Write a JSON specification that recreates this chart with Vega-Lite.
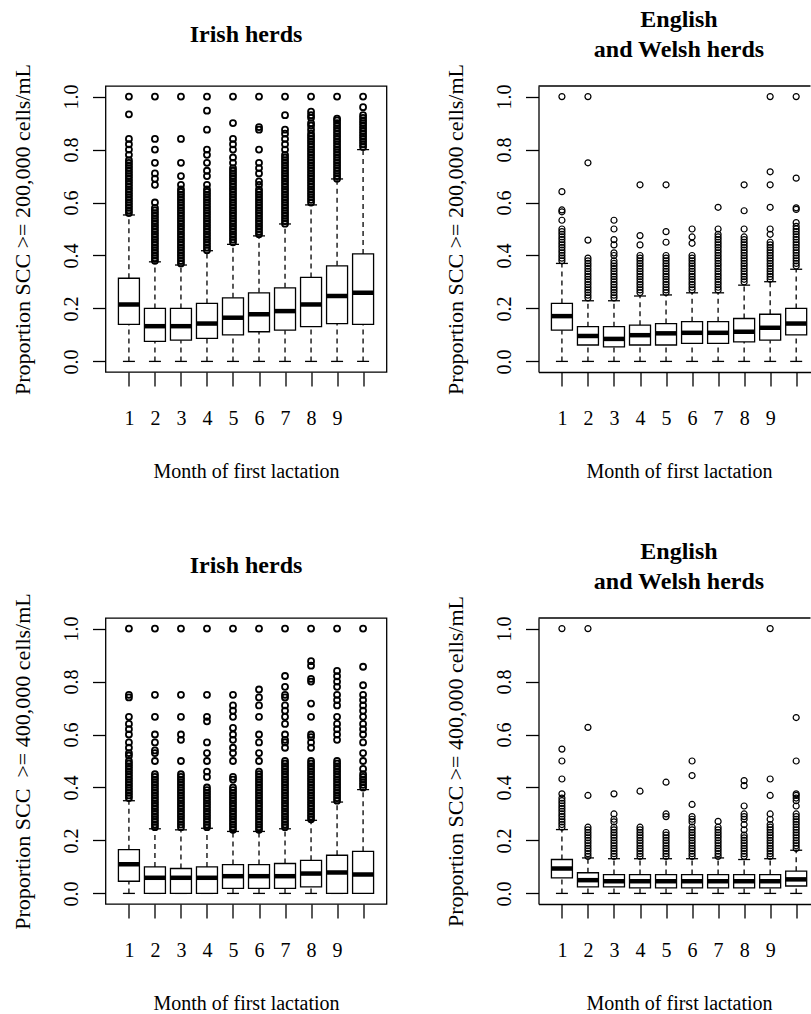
{
"$schema": "https://vega.github.io/schema/vega-lite/v6.json",
"padding": {"left": 10.5, "top": 7, "right": 0, "bottom": 0},
"background": "white",
"datasets": {
"boxes": [
{"p":1,"m":1,"lo":0,"q1":0.14,"md":0.215,"q3":0.314,"hi":0.553},
{"p":1,"m":2,"lo":0,"q1":0.076,"md":0.133,"q3":0.2,"hi":0.376},
{"p":1,"m":3,"lo":0,"q1":0.08,"md":0.133,"q3":0.2,"hi":0.364},
{"p":1,"m":4,"lo":0,"q1":0.087,"md":0.143,"q3":0.219,"hi":0.418},
{"p":1,"m":5,"lo":0,"q1":0.1,"md":0.165,"q3":0.24,"hi":0.442},
{"p":1,"m":6,"lo":0,"q1":0.112,"md":0.178,"q3":0.259,"hi":0.474},
{"p":1,"m":7,"lo":0,"q1":0.118,"md":0.19,"q3":0.278,"hi":0.519},
{"p":1,"m":8,"lo":0,"q1":0.131,"md":0.215,"q3":0.317,"hi":0.591},
{"p":1,"m":9,"lo":0,"q1":0.143,"md":0.247,"q3":0.361,"hi":0.689},
{"p":1,"m":10,"lo":0,"q1":0.14,"md":0.259,"q3":0.406,"hi":0.8},
{"p":2,"m":1,"lo":0,"q1":0.118,"md":0.171,"q3":0.219,"hi":0.37},
{"p":2,"m":2,"lo":0,"q1":0.062,"md":0.096,"q3":0.131,"hi":0.229},
{"p":2,"m":3,"lo":0,"q1":0.055,"md":0.085,"q3":0.131,"hi":0.229},
{"p":2,"m":4,"lo":0,"q1":0.062,"md":0.099,"q3":0.137,"hi":0.247},
{"p":2,"m":5,"lo":0,"q1":0.062,"md":0.106,"q3":0.143,"hi":0.251},
{"p":2,"m":6,"lo":0,"q1":0.068,"md":0.108,"q3":0.15,"hi":0.259},
{"p":2,"m":7,"lo":0,"q1":0.068,"md":0.108,"q3":0.15,"hi":0.259},
{"p":2,"m":8,"lo":0,"q1":0.074,"md":0.112,"q3":0.162,"hi":0.288},
{"p":2,"m":9,"lo":0,"q1":0.08,"md":0.127,"q3":0.178,"hi":0.301},
{"p":2,"m":10,"lo":0,"q1":0.1,"md":0.143,"q3":0.2,"hi":0.348},
{"p":3,"m":1,"lo":0,"q1":0.046,"md":0.11,"q3":0.165,"hi":0.35},
{"p":3,"m":2,"lo":0,"q1":0,"md":0.059,"q3":0.1,"hi":0.244},
{"p":3,"m":3,"lo":0,"q1":0,"md":0.059,"q3":0.094,"hi":0.24},
{"p":3,"m":4,"lo":0,"q1":0,"md":0.059,"q3":0.1,"hi":0.246},
{"p":3,"m":5,"lo":0,"q1":0.019,"md":0.065,"q3":0.109,"hi":0.234},
{"p":3,"m":6,"lo":0,"q1":0.019,"md":0.065,"q3":0.109,"hi":0.234},
{"p":3,"m":7,"lo":0,"q1":0.019,"md":0.065,"q3":0.113,"hi":0.244},
{"p":3,"m":8,"lo":0,"q1":0.025,"md":0.075,"q3":0.125,"hi":0.276},
{"p":3,"m":9,"lo":0,"q1":0,"md":0.079,"q3":0.144,"hi":0.345},
{"p":3,"m":10,"lo":0,"q1":0,"md":0.071,"q3":0.159,"hi":0.392},
{"p":4,"m":1,"lo":0,"q1":0.059,"md":0.094,"q3":0.128,"hi":0.241},
{"p":4,"m":2,"lo":0,"q1":0.025,"md":0.05,"q3":0.078,"hi":0.134},
{"p":4,"m":3,"lo":0,"q1":0.025,"md":0.046,"q3":0.071,"hi":0.131},
{"p":4,"m":4,"lo":0,"q1":0.021,"md":0.046,"q3":0.071,"hi":0.131},
{"p":4,"m":5,"lo":0,"q1":0.021,"md":0.046,"q3":0.071,"hi":0.131},
{"p":4,"m":6,"lo":0,"q1":0.021,"md":0.046,"q3":0.071,"hi":0.131},
{"p":4,"m":7,"lo":0,"q1":0.021,"md":0.046,"q3":0.071,"hi":0.134},
{"p":4,"m":8,"lo":0,"q1":0.021,"md":0.046,"q3":0.071,"hi":0.128},
{"p":4,"m":9,"lo":0,"q1":0.021,"md":0.046,"q3":0.071,"hi":0.131},
{"p":4,"m":10,"lo":0,"q1":0.028,"md":0.053,"q3":0.084,"hi":0.163}
],
"out": [
{"p":1,"m":1,"v":0.56},{"p":1,"m":1,"v":0.57},{"p":1,"m":1,"v":0.58},{"p":1,"m":1,"v":0.59},{"p":1,"m":1,"v":0.6},{"p":1,"m":1,"v":0.61},{"p":1,"m":1,"v":0.62},{"p":1,"m":1,"v":0.63},{"p":1,"m":1,"v":0.64},{"p":1,"m":1,"v":0.65},{"p":1,"m":1,"v":0.66},{"p":1,"m":1,"v":0.67},{"p":1,"m":1,"v":0.68},{"p":1,"m":1,"v":0.69},{"p":1,"m":1,"v":0.7},{"p":1,"m":1,"v":0.71},{"p":1,"m":1,"v":0.72},{"p":1,"m":1,"v":0.73},{"p":1,"m":1,"v":0.74},{"p":1,"m":1,"v":0.75},{"p":1,"m":1,"v":0.76},{"p":1,"m":1,"v":0.78},{"p":1,"m":1,"v":0.8},{"p":1,"m":1,"v":0.82},{"p":1,"m":1,"v":0.84},{"p":1,"m":1,"v":0.933},{"p":1,"m":1,"v":1},
{"p":1,"m":2,"v":0.38},{"p":1,"m":2,"v":0.39},{"p":1,"m":2,"v":0.4},{"p":1,"m":2,"v":0.41},{"p":1,"m":2,"v":0.42},{"p":1,"m":2,"v":0.43},{"p":1,"m":2,"v":0.44},{"p":1,"m":2,"v":0.45},{"p":1,"m":2,"v":0.46},{"p":1,"m":2,"v":0.47},{"p":1,"m":2,"v":0.48},{"p":1,"m":2,"v":0.49},{"p":1,"m":2,"v":0.5},{"p":1,"m":2,"v":0.51},{"p":1,"m":2,"v":0.52},{"p":1,"m":2,"v":0.53},{"p":1,"m":2,"v":0.54},{"p":1,"m":2,"v":0.55},{"p":1,"m":2,"v":0.56},{"p":1,"m":2,"v":0.57},{"p":1,"m":2,"v":0.58},{"p":1,"m":2,"v":0.6},{"p":1,"m":2,"v":0.667},{"p":1,"m":2,"v":0.69},{"p":1,"m":2,"v":0.71},{"p":1,"m":2,"v":0.75},{"p":1,"m":2,"v":0.8},{"p":1,"m":2,"v":0.84},{"p":1,"m":2,"v":1},
{"p":1,"m":3,"v":0.37},{"p":1,"m":3,"v":0.38},{"p":1,"m":3,"v":0.39},{"p":1,"m":3,"v":0.4},{"p":1,"m":3,"v":0.41},{"p":1,"m":3,"v":0.42},{"p":1,"m":3,"v":0.43},{"p":1,"m":3,"v":0.44},{"p":1,"m":3,"v":0.45},{"p":1,"m":3,"v":0.46},{"p":1,"m":3,"v":0.47},{"p":1,"m":3,"v":0.48},{"p":1,"m":3,"v":0.49},{"p":1,"m":3,"v":0.5},{"p":1,"m":3,"v":0.51},{"p":1,"m":3,"v":0.52},{"p":1,"m":3,"v":0.53},{"p":1,"m":3,"v":0.54},{"p":1,"m":3,"v":0.55},{"p":1,"m":3,"v":0.56},{"p":1,"m":3,"v":0.57},{"p":1,"m":3,"v":0.58},{"p":1,"m":3,"v":0.59},{"p":1,"m":3,"v":0.6},{"p":1,"m":3,"v":0.61},{"p":1,"m":3,"v":0.62},{"p":1,"m":3,"v":0.63},{"p":1,"m":3,"v":0.64},{"p":1,"m":3,"v":0.65},{"p":1,"m":3,"v":0.667},{"p":1,"m":3,"v":0.7},{"p":1,"m":3,"v":0.75},{"p":1,"m":3,"v":0.84},{"p":1,"m":3,"v":1},
{"p":1,"m":4,"v":0.42},{"p":1,"m":4,"v":0.43},{"p":1,"m":4,"v":0.44},{"p":1,"m":4,"v":0.45},{"p":1,"m":4,"v":0.46},{"p":1,"m":4,"v":0.47},{"p":1,"m":4,"v":0.48},{"p":1,"m":4,"v":0.49},{"p":1,"m":4,"v":0.5},{"p":1,"m":4,"v":0.51},{"p":1,"m":4,"v":0.52},{"p":1,"m":4,"v":0.53},{"p":1,"m":4,"v":0.54},{"p":1,"m":4,"v":0.55},{"p":1,"m":4,"v":0.56},{"p":1,"m":4,"v":0.57},{"p":1,"m":4,"v":0.58},{"p":1,"m":4,"v":0.59},{"p":1,"m":4,"v":0.6},{"p":1,"m":4,"v":0.61},{"p":1,"m":4,"v":0.62},{"p":1,"m":4,"v":0.63},{"p":1,"m":4,"v":0.64},{"p":1,"m":4,"v":0.65},{"p":1,"m":4,"v":0.667},{"p":1,"m":4,"v":0.7},{"p":1,"m":4,"v":0.72},{"p":1,"m":4,"v":0.75},{"p":1,"m":4,"v":0.78},{"p":1,"m":4,"v":0.8},{"p":1,"m":4,"v":0.875},{"p":1,"m":4,"v":0.947},{"p":1,"m":4,"v":1},
{"p":1,"m":5,"v":0.45},{"p":1,"m":5,"v":0.46},{"p":1,"m":5,"v":0.47},{"p":1,"m":5,"v":0.48},{"p":1,"m":5,"v":0.49},{"p":1,"m":5,"v":0.5},{"p":1,"m":5,"v":0.51},{"p":1,"m":5,"v":0.52},{"p":1,"m":5,"v":0.53},{"p":1,"m":5,"v":0.54},{"p":1,"m":5,"v":0.55},{"p":1,"m":5,"v":0.56},{"p":1,"m":5,"v":0.57},{"p":1,"m":5,"v":0.58},{"p":1,"m":5,"v":0.59},{"p":1,"m":5,"v":0.6},{"p":1,"m":5,"v":0.61},{"p":1,"m":5,"v":0.62},{"p":1,"m":5,"v":0.63},{"p":1,"m":5,"v":0.64},{"p":1,"m":5,"v":0.65},{"p":1,"m":5,"v":0.66},{"p":1,"m":5,"v":0.67},{"p":1,"m":5,"v":0.68},{"p":1,"m":5,"v":0.69},{"p":1,"m":5,"v":0.7},{"p":1,"m":5,"v":0.71},{"p":1,"m":5,"v":0.72},{"p":1,"m":5,"v":0.73},{"p":1,"m":5,"v":0.75},{"p":1,"m":5,"v":0.77},{"p":1,"m":5,"v":0.8},{"p":1,"m":5,"v":0.82},{"p":1,"m":5,"v":0.84},{"p":1,"m":5,"v":0.9},{"p":1,"m":5,"v":1},
{"p":1,"m":6,"v":0.48},{"p":1,"m":6,"v":0.49},{"p":1,"m":6,"v":0.5},{"p":1,"m":6,"v":0.51},{"p":1,"m":6,"v":0.52},{"p":1,"m":6,"v":0.53},{"p":1,"m":6,"v":0.54},{"p":1,"m":6,"v":0.55},{"p":1,"m":6,"v":0.56},{"p":1,"m":6,"v":0.57},{"p":1,"m":6,"v":0.58},{"p":1,"m":6,"v":0.59},{"p":1,"m":6,"v":0.6},{"p":1,"m":6,"v":0.61},{"p":1,"m":6,"v":0.62},{"p":1,"m":6,"v":0.63},{"p":1,"m":6,"v":0.64},{"p":1,"m":6,"v":0.65},{"p":1,"m":6,"v":0.667},{"p":1,"m":6,"v":0.68},{"p":1,"m":6,"v":0.71},{"p":1,"m":6,"v":0.73},{"p":1,"m":6,"v":0.75},{"p":1,"m":6,"v":0.8},{"p":1,"m":6,"v":0.875},{"p":1,"m":6,"v":0.885},{"p":1,"m":6,"v":1},
{"p":1,"m":7,"v":0.52},{"p":1,"m":7,"v":0.53},{"p":1,"m":7,"v":0.54},{"p":1,"m":7,"v":0.55},{"p":1,"m":7,"v":0.56},{"p":1,"m":7,"v":0.57},{"p":1,"m":7,"v":0.58},{"p":1,"m":7,"v":0.59},{"p":1,"m":7,"v":0.6},{"p":1,"m":7,"v":0.61},{"p":1,"m":7,"v":0.62},{"p":1,"m":7,"v":0.63},{"p":1,"m":7,"v":0.64},{"p":1,"m":7,"v":0.65},{"p":1,"m":7,"v":0.66},{"p":1,"m":7,"v":0.67},{"p":1,"m":7,"v":0.68},{"p":1,"m":7,"v":0.69},{"p":1,"m":7,"v":0.7},{"p":1,"m":7,"v":0.71},{"p":1,"m":7,"v":0.72},{"p":1,"m":7,"v":0.73},{"p":1,"m":7,"v":0.74},{"p":1,"m":7,"v":0.75},{"p":1,"m":7,"v":0.76},{"p":1,"m":7,"v":0.77},{"p":1,"m":7,"v":0.78},{"p":1,"m":7,"v":0.8},{"p":1,"m":7,"v":0.82},{"p":1,"m":7,"v":0.84},{"p":1,"m":7,"v":0.86},{"p":1,"m":7,"v":0.875},{"p":1,"m":7,"v":0.93},{"p":1,"m":7,"v":1},
{"p":1,"m":8,"v":0.6},{"p":1,"m":8,"v":0.61},{"p":1,"m":8,"v":0.62},{"p":1,"m":8,"v":0.63},{"p":1,"m":8,"v":0.64},{"p":1,"m":8,"v":0.65},{"p":1,"m":8,"v":0.66},{"p":1,"m":8,"v":0.67},{"p":1,"m":8,"v":0.68},{"p":1,"m":8,"v":0.69},{"p":1,"m":8,"v":0.7},{"p":1,"m":8,"v":0.71},{"p":1,"m":8,"v":0.72},{"p":1,"m":8,"v":0.73},{"p":1,"m":8,"v":0.74},{"p":1,"m":8,"v":0.75},{"p":1,"m":8,"v":0.76},{"p":1,"m":8,"v":0.77},{"p":1,"m":8,"v":0.78},{"p":1,"m":8,"v":0.79},{"p":1,"m":8,"v":0.8},{"p":1,"m":8,"v":0.81},{"p":1,"m":8,"v":0.82},{"p":1,"m":8,"v":0.83},{"p":1,"m":8,"v":0.84},{"p":1,"m":8,"v":0.85},{"p":1,"m":8,"v":0.86},{"p":1,"m":8,"v":0.875},{"p":1,"m":8,"v":0.89},{"p":1,"m":8,"v":0.9},{"p":1,"m":8,"v":0.92},{"p":1,"m":8,"v":0.93},{"p":1,"m":8,"v":0.943},{"p":1,"m":8,"v":1},
{"p":1,"m":9,"v":0.69},{"p":1,"m":9,"v":0.7},{"p":1,"m":9,"v":0.71},{"p":1,"m":9,"v":0.72},{"p":1,"m":9,"v":0.73},{"p":1,"m":9,"v":0.74},{"p":1,"m":9,"v":0.75},{"p":1,"m":9,"v":0.76},{"p":1,"m":9,"v":0.77},{"p":1,"m":9,"v":0.78},{"p":1,"m":9,"v":0.79},{"p":1,"m":9,"v":0.8},{"p":1,"m":9,"v":0.81},{"p":1,"m":9,"v":0.82},{"p":1,"m":9,"v":0.83},{"p":1,"m":9,"v":0.84},{"p":1,"m":9,"v":0.85},{"p":1,"m":9,"v":0.86},{"p":1,"m":9,"v":0.87},{"p":1,"m":9,"v":0.88},{"p":1,"m":9,"v":0.89},{"p":1,"m":9,"v":0.9},{"p":1,"m":9,"v":0.91},{"p":1,"m":9,"v":0.917},{"p":1,"m":9,"v":1},
{"p":1,"m":10,"v":0.81},{"p":1,"m":10,"v":0.82},{"p":1,"m":10,"v":0.83},{"p":1,"m":10,"v":0.84},{"p":1,"m":10,"v":0.85},{"p":1,"m":10,"v":0.86},{"p":1,"m":10,"v":0.87},{"p":1,"m":10,"v":0.88},{"p":1,"m":10,"v":0.89},{"p":1,"m":10,"v":0.9},{"p":1,"m":10,"v":0.91},{"p":1,"m":10,"v":0.92},{"p":1,"m":10,"v":0.93},{"p":1,"m":10,"v":0.96},{"p":1,"m":10,"v":1},

{"p":2,"m":1,"v":0.38},{"p":2,"m":1,"v":0.39},{"p":2,"m":1,"v":0.4},{"p":2,"m":1,"v":0.41},{"p":2,"m":1,"v":0.42},{"p":2,"m":1,"v":0.43},{"p":2,"m":1,"v":0.44},{"p":2,"m":1,"v":0.45},{"p":2,"m":1,"v":0.46},{"p":2,"m":1,"v":0.47},{"p":2,"m":1,"v":0.48},{"p":2,"m":1,"v":0.49},{"p":2,"m":1,"v":0.5},{"p":2,"m":1,"v":0.533},{"p":2,"m":1,"v":0.565},{"p":2,"m":1,"v":0.572},{"p":2,"m":1,"v":0.641},{"p":2,"m":1,"v":1},
{"p":2,"m":2,"v":0.24},{"p":2,"m":2,"v":0.25},{"p":2,"m":2,"v":0.26},{"p":2,"m":2,"v":0.27},{"p":2,"m":2,"v":0.28},{"p":2,"m":2,"v":0.29},{"p":2,"m":2,"v":0.3},{"p":2,"m":2,"v":0.31},{"p":2,"m":2,"v":0.32},{"p":2,"m":2,"v":0.33},{"p":2,"m":2,"v":0.34},{"p":2,"m":2,"v":0.35},{"p":2,"m":2,"v":0.36},{"p":2,"m":2,"v":0.37},{"p":2,"m":2,"v":0.38},{"p":2,"m":2,"v":0.39},{"p":2,"m":2,"v":0.458},{"p":2,"m":2,"v":0.75},{"p":2,"m":2,"v":1},
{"p":2,"m":3,"v":0.24},{"p":2,"m":3,"v":0.25},{"p":2,"m":3,"v":0.26},{"p":2,"m":3,"v":0.27},{"p":2,"m":3,"v":0.28},{"p":2,"m":3,"v":0.29},{"p":2,"m":3,"v":0.3},{"p":2,"m":3,"v":0.31},{"p":2,"m":3,"v":0.32},{"p":2,"m":3,"v":0.33},{"p":2,"m":3,"v":0.34},{"p":2,"m":3,"v":0.35},{"p":2,"m":3,"v":0.36},{"p":2,"m":3,"v":0.37},{"p":2,"m":3,"v":0.38},{"p":2,"m":3,"v":0.4},{"p":2,"m":3,"v":0.41},{"p":2,"m":3,"v":0.44},{"p":2,"m":3,"v":0.46},{"p":2,"m":3,"v":0.5},{"p":2,"m":3,"v":0.533},
{"p":2,"m":4,"v":0.26},{"p":2,"m":4,"v":0.27},{"p":2,"m":4,"v":0.28},{"p":2,"m":4,"v":0.29},{"p":2,"m":4,"v":0.3},{"p":2,"m":4,"v":0.31},{"p":2,"m":4,"v":0.32},{"p":2,"m":4,"v":0.33},{"p":2,"m":4,"v":0.34},{"p":2,"m":4,"v":0.35},{"p":2,"m":4,"v":0.36},{"p":2,"m":4,"v":0.37},{"p":2,"m":4,"v":0.38},{"p":2,"m":4,"v":0.39},{"p":2,"m":4,"v":0.4},{"p":2,"m":4,"v":0.44},{"p":2,"m":4,"v":0.475},{"p":2,"m":4,"v":0.667},
{"p":2,"m":5,"v":0.26},{"p":2,"m":5,"v":0.27},{"p":2,"m":5,"v":0.28},{"p":2,"m":5,"v":0.29},{"p":2,"m":5,"v":0.3},{"p":2,"m":5,"v":0.31},{"p":2,"m":5,"v":0.32},{"p":2,"m":5,"v":0.33},{"p":2,"m":5,"v":0.34},{"p":2,"m":5,"v":0.35},{"p":2,"m":5,"v":0.36},{"p":2,"m":5,"v":0.37},{"p":2,"m":5,"v":0.38},{"p":2,"m":5,"v":0.39},{"p":2,"m":5,"v":0.4},{"p":2,"m":5,"v":0.45},{"p":2,"m":5,"v":0.49},{"p":2,"m":5,"v":0.667},
{"p":2,"m":6,"v":0.27},{"p":2,"m":6,"v":0.28},{"p":2,"m":6,"v":0.29},{"p":2,"m":6,"v":0.3},{"p":2,"m":6,"v":0.31},{"p":2,"m":6,"v":0.32},{"p":2,"m":6,"v":0.33},{"p":2,"m":6,"v":0.34},{"p":2,"m":6,"v":0.35},{"p":2,"m":6,"v":0.36},{"p":2,"m":6,"v":0.37},{"p":2,"m":6,"v":0.38},{"p":2,"m":6,"v":0.39},{"p":2,"m":6,"v":0.4},{"p":2,"m":6,"v":0.446},{"p":2,"m":6,"v":0.47},{"p":2,"m":6,"v":0.5},
{"p":2,"m":7,"v":0.27},{"p":2,"m":7,"v":0.28},{"p":2,"m":7,"v":0.29},{"p":2,"m":7,"v":0.3},{"p":2,"m":7,"v":0.31},{"p":2,"m":7,"v":0.32},{"p":2,"m":7,"v":0.33},{"p":2,"m":7,"v":0.34},{"p":2,"m":7,"v":0.35},{"p":2,"m":7,"v":0.36},{"p":2,"m":7,"v":0.37},{"p":2,"m":7,"v":0.38},{"p":2,"m":7,"v":0.39},{"p":2,"m":7,"v":0.4},{"p":2,"m":7,"v":0.41},{"p":2,"m":7,"v":0.42},{"p":2,"m":7,"v":0.43},{"p":2,"m":7,"v":0.44},{"p":2,"m":7,"v":0.45},{"p":2,"m":7,"v":0.46},{"p":2,"m":7,"v":0.47},{"p":2,"m":7,"v":0.48},{"p":2,"m":7,"v":0.5},{"p":2,"m":7,"v":0.582},
{"p":2,"m":8,"v":0.3},{"p":2,"m":8,"v":0.31},{"p":2,"m":8,"v":0.32},{"p":2,"m":8,"v":0.33},{"p":2,"m":8,"v":0.34},{"p":2,"m":8,"v":0.35},{"p":2,"m":8,"v":0.36},{"p":2,"m":8,"v":0.37},{"p":2,"m":8,"v":0.38},{"p":2,"m":8,"v":0.39},{"p":2,"m":8,"v":0.4},{"p":2,"m":8,"v":0.41},{"p":2,"m":8,"v":0.42},{"p":2,"m":8,"v":0.43},{"p":2,"m":8,"v":0.44},{"p":2,"m":8,"v":0.45},{"p":2,"m":8,"v":0.46},{"p":2,"m":8,"v":0.47},{"p":2,"m":8,"v":0.5},{"p":2,"m":8,"v":0.569},{"p":2,"m":8,"v":0.667},
{"p":2,"m":9,"v":0.31},{"p":2,"m":9,"v":0.32},{"p":2,"m":9,"v":0.33},{"p":2,"m":9,"v":0.34},{"p":2,"m":9,"v":0.35},{"p":2,"m":9,"v":0.36},{"p":2,"m":9,"v":0.37},{"p":2,"m":9,"v":0.38},{"p":2,"m":9,"v":0.39},{"p":2,"m":9,"v":0.4},{"p":2,"m":9,"v":0.41},{"p":2,"m":9,"v":0.42},{"p":2,"m":9,"v":0.43},{"p":2,"m":9,"v":0.44},{"p":2,"m":9,"v":0.45},{"p":2,"m":9,"v":0.48},{"p":2,"m":9,"v":0.5},{"p":2,"m":9,"v":0.582},{"p":2,"m":9,"v":0.667},{"p":2,"m":9,"v":0.716},{"p":2,"m":9,"v":1},
{"p":2,"m":10,"v":0.36},{"p":2,"m":10,"v":0.37},{"p":2,"m":10,"v":0.38},{"p":2,"m":10,"v":0.39},{"p":2,"m":10,"v":0.4},{"p":2,"m":10,"v":0.41},{"p":2,"m":10,"v":0.42},{"p":2,"m":10,"v":0.43},{"p":2,"m":10,"v":0.44},{"p":2,"m":10,"v":0.45},{"p":2,"m":10,"v":0.46},{"p":2,"m":10,"v":0.47},{"p":2,"m":10,"v":0.48},{"p":2,"m":10,"v":0.49},{"p":2,"m":10,"v":0.5},{"p":2,"m":10,"v":0.51},{"p":2,"m":10,"v":0.524},{"p":2,"m":10,"v":0.574},{"p":2,"m":10,"v":0.58},{"p":2,"m":10,"v":0.692},{"p":2,"m":10,"v":1},

{"p":3,"m":1,"v":0.36},{"p":3,"m":1,"v":0.37},{"p":3,"m":1,"v":0.38},{"p":3,"m":1,"v":0.39},{"p":3,"m":1,"v":0.4},{"p":3,"m":1,"v":0.41},{"p":3,"m":1,"v":0.42},{"p":3,"m":1,"v":0.43},{"p":3,"m":1,"v":0.44},{"p":3,"m":1,"v":0.45},{"p":3,"m":1,"v":0.46},{"p":3,"m":1,"v":0.47},{"p":3,"m":1,"v":0.48},{"p":3,"m":1,"v":0.49},{"p":3,"m":1,"v":0.5},{"p":3,"m":1,"v":0.52},{"p":3,"m":1,"v":0.53},{"p":3,"m":1,"v":0.55},{"p":3,"m":1,"v":0.57},{"p":3,"m":1,"v":0.6},{"p":3,"m":1,"v":0.62},{"p":3,"m":1,"v":0.64},{"p":3,"m":1,"v":0.667},{"p":3,"m":1,"v":0.74},{"p":3,"m":1,"v":0.75},{"p":3,"m":1,"v":1},
{"p":3,"m":2,"v":0.25},{"p":3,"m":2,"v":0.26},{"p":3,"m":2,"v":0.27},{"p":3,"m":2,"v":0.28},{"p":3,"m":2,"v":0.29},{"p":3,"m":2,"v":0.3},{"p":3,"m":2,"v":0.31},{"p":3,"m":2,"v":0.32},{"p":3,"m":2,"v":0.33},{"p":3,"m":2,"v":0.34},{"p":3,"m":2,"v":0.35},{"p":3,"m":2,"v":0.36},{"p":3,"m":2,"v":0.37},{"p":3,"m":2,"v":0.38},{"p":3,"m":2,"v":0.39},{"p":3,"m":2,"v":0.4},{"p":3,"m":2,"v":0.41},{"p":3,"m":2,"v":0.42},{"p":3,"m":2,"v":0.43},{"p":3,"m":2,"v":0.44},{"p":3,"m":2,"v":0.45},{"p":3,"m":2,"v":0.5},{"p":3,"m":2,"v":0.53},{"p":3,"m":2,"v":0.54},{"p":3,"m":2,"v":0.57},{"p":3,"m":2,"v":0.6},{"p":3,"m":2,"v":0.667},{"p":3,"m":2,"v":0.75},{"p":3,"m":2,"v":1},
{"p":3,"m":3,"v":0.25},{"p":3,"m":3,"v":0.26},{"p":3,"m":3,"v":0.27},{"p":3,"m":3,"v":0.28},{"p":3,"m":3,"v":0.29},{"p":3,"m":3,"v":0.3},{"p":3,"m":3,"v":0.31},{"p":3,"m":3,"v":0.32},{"p":3,"m":3,"v":0.33},{"p":3,"m":3,"v":0.34},{"p":3,"m":3,"v":0.35},{"p":3,"m":3,"v":0.36},{"p":3,"m":3,"v":0.37},{"p":3,"m":3,"v":0.38},{"p":3,"m":3,"v":0.39},{"p":3,"m":3,"v":0.4},{"p":3,"m":3,"v":0.41},{"p":3,"m":3,"v":0.42},{"p":3,"m":3,"v":0.43},{"p":3,"m":3,"v":0.44},{"p":3,"m":3,"v":0.45},{"p":3,"m":3,"v":0.5},{"p":3,"m":3,"v":0.58},{"p":3,"m":3,"v":0.6},{"p":3,"m":3,"v":0.667},{"p":3,"m":3,"v":0.75},{"p":3,"m":3,"v":1},
{"p":3,"m":4,"v":0.25},{"p":3,"m":4,"v":0.26},{"p":3,"m":4,"v":0.27},{"p":3,"m":4,"v":0.28},{"p":3,"m":4,"v":0.29},{"p":3,"m":4,"v":0.3},{"p":3,"m":4,"v":0.31},{"p":3,"m":4,"v":0.32},{"p":3,"m":4,"v":0.33},{"p":3,"m":4,"v":0.34},{"p":3,"m":4,"v":0.35},{"p":3,"m":4,"v":0.36},{"p":3,"m":4,"v":0.37},{"p":3,"m":4,"v":0.38},{"p":3,"m":4,"v":0.39},{"p":3,"m":4,"v":0.4},{"p":3,"m":4,"v":0.44},{"p":3,"m":4,"v":0.46},{"p":3,"m":4,"v":0.5},{"p":3,"m":4,"v":0.53},{"p":3,"m":4,"v":0.57},{"p":3,"m":4,"v":0.65},{"p":3,"m":4,"v":0.667},{"p":3,"m":4,"v":0.75},{"p":3,"m":4,"v":1},
{"p":3,"m":5,"v":0.24},{"p":3,"m":5,"v":0.25},{"p":3,"m":5,"v":0.26},{"p":3,"m":5,"v":0.27},{"p":3,"m":5,"v":0.28},{"p":3,"m":5,"v":0.29},{"p":3,"m":5,"v":0.3},{"p":3,"m":5,"v":0.31},{"p":3,"m":5,"v":0.32},{"p":3,"m":5,"v":0.33},{"p":3,"m":5,"v":0.34},{"p":3,"m":5,"v":0.35},{"p":3,"m":5,"v":0.36},{"p":3,"m":5,"v":0.37},{"p":3,"m":5,"v":0.38},{"p":3,"m":5,"v":0.39},{"p":3,"m":5,"v":0.4},{"p":3,"m":5,"v":0.43},{"p":3,"m":5,"v":0.44},{"p":3,"m":5,"v":0.5},{"p":3,"m":5,"v":0.53},{"p":3,"m":5,"v":0.55},{"p":3,"m":5,"v":0.58},{"p":3,"m":5,"v":0.6},{"p":3,"m":5,"v":0.625},{"p":3,"m":5,"v":0.667},{"p":3,"m":5,"v":0.69},{"p":3,"m":5,"v":0.71},{"p":3,"m":5,"v":0.75},{"p":3,"m":5,"v":1},
{"p":3,"m":6,"v":0.24},{"p":3,"m":6,"v":0.25},{"p":3,"m":6,"v":0.26},{"p":3,"m":6,"v":0.27},{"p":3,"m":6,"v":0.28},{"p":3,"m":6,"v":0.29},{"p":3,"m":6,"v":0.3},{"p":3,"m":6,"v":0.31},{"p":3,"m":6,"v":0.32},{"p":3,"m":6,"v":0.33},{"p":3,"m":6,"v":0.34},{"p":3,"m":6,"v":0.35},{"p":3,"m":6,"v":0.36},{"p":3,"m":6,"v":0.37},{"p":3,"m":6,"v":0.38},{"p":3,"m":6,"v":0.39},{"p":3,"m":6,"v":0.4},{"p":3,"m":6,"v":0.41},{"p":3,"m":6,"v":0.42},{"p":3,"m":6,"v":0.43},{"p":3,"m":6,"v":0.44},{"p":3,"m":6,"v":0.45},{"p":3,"m":6,"v":0.46},{"p":3,"m":6,"v":0.5},{"p":3,"m":6,"v":0.53},{"p":3,"m":6,"v":0.57},{"p":3,"m":6,"v":0.6},{"p":3,"m":6,"v":0.667},{"p":3,"m":6,"v":0.71},{"p":3,"m":6,"v":0.74},{"p":3,"m":6,"v":0.77},{"p":3,"m":6,"v":1},
{"p":3,"m":7,"v":0.25},{"p":3,"m":7,"v":0.26},{"p":3,"m":7,"v":0.27},{"p":3,"m":7,"v":0.28},{"p":3,"m":7,"v":0.29},{"p":3,"m":7,"v":0.3},{"p":3,"m":7,"v":0.31},{"p":3,"m":7,"v":0.32},{"p":3,"m":7,"v":0.33},{"p":3,"m":7,"v":0.34},{"p":3,"m":7,"v":0.35},{"p":3,"m":7,"v":0.36},{"p":3,"m":7,"v":0.37},{"p":3,"m":7,"v":0.38},{"p":3,"m":7,"v":0.39},{"p":3,"m":7,"v":0.4},{"p":3,"m":7,"v":0.41},{"p":3,"m":7,"v":0.42},{"p":3,"m":7,"v":0.43},{"p":3,"m":7,"v":0.44},{"p":3,"m":7,"v":0.45},{"p":3,"m":7,"v":0.46},{"p":3,"m":7,"v":0.47},{"p":3,"m":7,"v":0.48},{"p":3,"m":7,"v":0.49},{"p":3,"m":7,"v":0.5},{"p":3,"m":7,"v":0.55},{"p":3,"m":7,"v":0.57},{"p":3,"m":7,"v":0.58},{"p":3,"m":7,"v":0.6},{"p":3,"m":7,"v":0.64},{"p":3,"m":7,"v":0.667},{"p":3,"m":7,"v":0.69},{"p":3,"m":7,"v":0.71},{"p":3,"m":7,"v":0.74},{"p":3,"m":7,"v":0.75},{"p":3,"m":7,"v":0.78},{"p":3,"m":7,"v":0.821},{"p":3,"m":7,"v":1},
{"p":3,"m":8,"v":0.28},{"p":3,"m":8,"v":0.29},{"p":3,"m":8,"v":0.3},{"p":3,"m":8,"v":0.31},{"p":3,"m":8,"v":0.32},{"p":3,"m":8,"v":0.33},{"p":3,"m":8,"v":0.34},{"p":3,"m":8,"v":0.35},{"p":3,"m":8,"v":0.36},{"p":3,"m":8,"v":0.37},{"p":3,"m":8,"v":0.38},{"p":3,"m":8,"v":0.39},{"p":3,"m":8,"v":0.4},{"p":3,"m":8,"v":0.41},{"p":3,"m":8,"v":0.42},{"p":3,"m":8,"v":0.43},{"p":3,"m":8,"v":0.44},{"p":3,"m":8,"v":0.45},{"p":3,"m":8,"v":0.46},{"p":3,"m":8,"v":0.47},{"p":3,"m":8,"v":0.48},{"p":3,"m":8,"v":0.49},{"p":3,"m":8,"v":0.5},{"p":3,"m":8,"v":0.55},{"p":3,"m":8,"v":0.57},{"p":3,"m":8,"v":0.59},{"p":3,"m":8,"v":0.6},{"p":3,"m":8,"v":0.667},{"p":3,"m":8,"v":0.717},{"p":3,"m":8,"v":0.8},{"p":3,"m":8,"v":0.81},{"p":3,"m":8,"v":0.86},{"p":3,"m":8,"v":0.877},{"p":3,"m":8,"v":1},
{"p":3,"m":9,"v":0.35},{"p":3,"m":9,"v":0.36},{"p":3,"m":9,"v":0.37},{"p":3,"m":9,"v":0.38},{"p":3,"m":9,"v":0.39},{"p":3,"m":9,"v":0.4},{"p":3,"m":9,"v":0.41},{"p":3,"m":9,"v":0.42},{"p":3,"m":9,"v":0.43},{"p":3,"m":9,"v":0.44},{"p":3,"m":9,"v":0.45},{"p":3,"m":9,"v":0.46},{"p":3,"m":9,"v":0.47},{"p":3,"m":9,"v":0.48},{"p":3,"m":9,"v":0.49},{"p":3,"m":9,"v":0.5},{"p":3,"m":9,"v":0.58},{"p":3,"m":9,"v":0.6},{"p":3,"m":9,"v":0.62},{"p":3,"m":9,"v":0.64},{"p":3,"m":9,"v":0.667},{"p":3,"m":9,"v":0.71},{"p":3,"m":9,"v":0.73},{"p":3,"m":9,"v":0.75},{"p":3,"m":9,"v":0.78},{"p":3,"m":9,"v":0.8},{"p":3,"m":9,"v":0.82},{"p":3,"m":9,"v":0.84},{"p":3,"m":9,"v":1},
{"p":3,"m":10,"v":0.4},{"p":3,"m":10,"v":0.41},{"p":3,"m":10,"v":0.42},{"p":3,"m":10,"v":0.43},{"p":3,"m":10,"v":0.44},{"p":3,"m":10,"v":0.45},{"p":3,"m":10,"v":0.47},{"p":3,"m":10,"v":0.5},{"p":3,"m":10,"v":0.53},{"p":3,"m":10,"v":0.57},{"p":3,"m":10,"v":0.6},{"p":3,"m":10,"v":0.62},{"p":3,"m":10,"v":0.64},{"p":3,"m":10,"v":0.667},{"p":3,"m":10,"v":0.69},{"p":3,"m":10,"v":0.71},{"p":3,"m":10,"v":0.73},{"p":3,"m":10,"v":0.75},{"p":3,"m":10,"v":0.786},{"p":3,"m":10,"v":0.856},{"p":3,"m":10,"v":1},

{"p":4,"m":1,"v":0.25},{"p":4,"m":1,"v":0.26},{"p":4,"m":1,"v":0.27},{"p":4,"m":1,"v":0.28},{"p":4,"m":1,"v":0.29},{"p":4,"m":1,"v":0.3},{"p":4,"m":1,"v":0.31},{"p":4,"m":1,"v":0.32},{"p":4,"m":1,"v":0.33},{"p":4,"m":1,"v":0.34},{"p":4,"m":1,"v":0.35},{"p":4,"m":1,"v":0.36},{"p":4,"m":1,"v":0.376},{"p":4,"m":1,"v":0.432},{"p":4,"m":1,"v":0.5},{"p":4,"m":1,"v":0.545},{"p":4,"m":1,"v":1},
{"p":4,"m":2,"v":0.14},{"p":4,"m":2,"v":0.15},{"p":4,"m":2,"v":0.16},{"p":4,"m":2,"v":0.17},{"p":4,"m":2,"v":0.18},{"p":4,"m":2,"v":0.19},{"p":4,"m":2,"v":0.2},{"p":4,"m":2,"v":0.21},{"p":4,"m":2,"v":0.22},{"p":4,"m":2,"v":0.23},{"p":4,"m":2,"v":0.24},{"p":4,"m":2,"v":0.25},{"p":4,"m":2,"v":0.37},{"p":4,"m":2,"v":0.627},{"p":4,"m":2,"v":1},
{"p":4,"m":3,"v":0.14},{"p":4,"m":3,"v":0.15},{"p":4,"m":3,"v":0.16},{"p":4,"m":3,"v":0.17},{"p":4,"m":3,"v":0.18},{"p":4,"m":3,"v":0.19},{"p":4,"m":3,"v":0.2},{"p":4,"m":3,"v":0.21},{"p":4,"m":3,"v":0.22},{"p":4,"m":3,"v":0.23},{"p":4,"m":3,"v":0.24},{"p":4,"m":3,"v":0.25},{"p":4,"m":3,"v":0.27},{"p":4,"m":3,"v":0.28},{"p":4,"m":3,"v":0.3},{"p":4,"m":3,"v":0.376},
{"p":4,"m":4,"v":0.14},{"p":4,"m":4,"v":0.15},{"p":4,"m":4,"v":0.16},{"p":4,"m":4,"v":0.17},{"p":4,"m":4,"v":0.18},{"p":4,"m":4,"v":0.19},{"p":4,"m":4,"v":0.2},{"p":4,"m":4,"v":0.21},{"p":4,"m":4,"v":0.22},{"p":4,"m":4,"v":0.23},{"p":4,"m":4,"v":0.24},{"p":4,"m":4,"v":0.25},{"p":4,"m":4,"v":0.386},
{"p":4,"m":5,"v":0.14},{"p":4,"m":5,"v":0.15},{"p":4,"m":5,"v":0.16},{"p":4,"m":5,"v":0.17},{"p":4,"m":5,"v":0.18},{"p":4,"m":5,"v":0.19},{"p":4,"m":5,"v":0.2},{"p":4,"m":5,"v":0.21},{"p":4,"m":5,"v":0.22},{"p":4,"m":5,"v":0.23},{"p":4,"m":5,"v":0.29},{"p":4,"m":5,"v":0.3},{"p":4,"m":5,"v":0.42},
{"p":4,"m":6,"v":0.14},{"p":4,"m":6,"v":0.15},{"p":4,"m":6,"v":0.16},{"p":4,"m":6,"v":0.17},{"p":4,"m":6,"v":0.18},{"p":4,"m":6,"v":0.19},{"p":4,"m":6,"v":0.2},{"p":4,"m":6,"v":0.21},{"p":4,"m":6,"v":0.22},{"p":4,"m":6,"v":0.23},{"p":4,"m":6,"v":0.24},{"p":4,"m":6,"v":0.25},{"p":4,"m":6,"v":0.27},{"p":4,"m":6,"v":0.28},{"p":4,"m":6,"v":0.29},{"p":4,"m":6,"v":0.336},{"p":4,"m":6,"v":0.445},{"p":4,"m":6,"v":0.5},
{"p":4,"m":7,"v":0.14},{"p":4,"m":7,"v":0.15},{"p":4,"m":7,"v":0.16},{"p":4,"m":7,"v":0.17},{"p":4,"m":7,"v":0.18},{"p":4,"m":7,"v":0.19},{"p":4,"m":7,"v":0.2},{"p":4,"m":7,"v":0.21},{"p":4,"m":7,"v":0.22},{"p":4,"m":7,"v":0.23},{"p":4,"m":7,"v":0.24},{"p":4,"m":7,"v":0.25},{"p":4,"m":7,"v":0.272},
{"p":4,"m":8,"v":0.14},{"p":4,"m":8,"v":0.15},{"p":4,"m":8,"v":0.16},{"p":4,"m":8,"v":0.17},{"p":4,"m":8,"v":0.18},{"p":4,"m":8,"v":0.19},{"p":4,"m":8,"v":0.2},{"p":4,"m":8,"v":0.21},{"p":4,"m":8,"v":0.22},{"p":4,"m":8,"v":0.24},{"p":4,"m":8,"v":0.26},{"p":4,"m":8,"v":0.28},{"p":4,"m":8,"v":0.29},{"p":4,"m":8,"v":0.3},{"p":4,"m":8,"v":0.33},{"p":4,"m":8,"v":0.407},{"p":4,"m":8,"v":0.426},
{"p":4,"m":9,"v":0.14},{"p":4,"m":9,"v":0.15},{"p":4,"m":9,"v":0.16},{"p":4,"m":9,"v":0.17},{"p":4,"m":9,"v":0.18},{"p":4,"m":9,"v":0.19},{"p":4,"m":9,"v":0.2},{"p":4,"m":9,"v":0.21},{"p":4,"m":9,"v":0.22},{"p":4,"m":9,"v":0.23},{"p":4,"m":9,"v":0.24},{"p":4,"m":9,"v":0.25},{"p":4,"m":9,"v":0.26},{"p":4,"m":9,"v":0.28},{"p":4,"m":9,"v":0.3},{"p":4,"m":9,"v":0.37},{"p":4,"m":9,"v":0.432},{"p":4,"m":9,"v":1},
{"p":4,"m":10,"v":0.17},{"p":4,"m":10,"v":0.18},{"p":4,"m":10,"v":0.19},{"p":4,"m":10,"v":0.2},{"p":4,"m":10,"v":0.21},{"p":4,"m":10,"v":0.22},{"p":4,"m":10,"v":0.23},{"p":4,"m":10,"v":0.24},{"p":4,"m":10,"v":0.25},{"p":4,"m":10,"v":0.26},{"p":4,"m":10,"v":0.27},{"p":4,"m":10,"v":0.28},{"p":4,"m":10,"v":0.29},{"p":4,"m":10,"v":0.3},{"p":4,"m":10,"v":0.33},{"p":4,"m":10,"v":0.35},{"p":4,"m":10,"v":0.36},{"p":4,"m":10,"v":0.37},{"p":4,"m":10,"v":0.376},{"p":4,"m":10,"v":0.5},{"p":4,"m":10,"v":0.664}
]
},
"vconcat": [
{"hconcat": [
{"width": 281, "height": 286,
 "title": {"text": "Irish herds", "offset": 17},
 "encoding": {"x": {"field": "m", "type": "quantitative", "scale": {"domain": [0.1, 10.9], "nice": false, "zero": false, "padding": 0},
          "axis": {"values": [1,2,3,4,5,6,7,8,9,10], "labelExpr": "datum.value == 10 ? '' : format(datum.value, 'd')", "tickSize": 14, "labelPadding": 22, "domain": false, "title": "Month of first lactation", "titlePadding": 33, "labelFlush": false, "labelOverlap": false, "labelBound": false, "labelFontSize": 20}}},
 "layer": [
  {"data": {"name": "boxes"}, "transform": [{"filter": "datum.p == 1"}],
   "mark": {"type": "rule", "strokeDash": [5, 4], "strokeWidth": 1.3, "color": "black"},
   "encoding": {
    "y": {"field": "q3", "type": "quantitative", "scale": {"domain": [-0.04, 1.04], "nice": false, "zero": false, "padding": 0},
          "axis": {"values": [0, 0.2, 0.4, 0.6, 0.8, 1], "format": ".1f", "tickSize": 13, "labelAngle": 270, "labelAlign": "center", "labelBaseline": "bottom", "labelPadding": 11, "domain": false, "labelOverlap": false, "title": "Proportion SCC >= 200,000 cells/mL", "titleFontSize": 22, "titlePadding": 27}},
    "y2": {"field": "hi"}}},
  {"data": {"name": "boxes"}, "transform": [{"filter": "datum.p == 1"}],
   "mark": {"type": "rule", "strokeDash": [5, 4], "strokeWidth": 1.3, "color": "black"},
   "encoding": {"y": {"field": "lo", "type": "quantitative"}, "y2": {"field": "q1"}}},
  {"data": {"name": "boxes"}, "transform": [{"filter": "datum.p == 1"}],
   "mark": {"type": "tick", "orient": "horizontal", "size": 12, "thickness": 1.3},
   "encoding": {"y": {"field": "hi", "type": "quantitative"}}},
  {"data": {"name": "boxes"}, "transform": [{"filter": "datum.p == 1"}],
   "mark": {"type": "tick", "orient": "horizontal", "size": 12, "thickness": 1.3},
   "encoding": {"y": {"field": "lo", "type": "quantitative"}}},
  {"data": {"name": "boxes"}, "transform": [{"filter": "datum.p == 1"}],
   "mark": {"type": "bar", "width": 21, "fill": "white", "stroke": "black", "strokeWidth": 1.3, "opacity": 1},
   "encoding": {"y": {"field": "q1", "type": "quantitative"}, "y2": {"field": "q3"}}},
  {"data": {"name": "boxes"}, "transform": [{"filter": "datum.p == 1"}],
   "mark": {"type": "tick", "orient": "horizontal", "size": 21, "thickness": 4.5},
   "encoding": {"y": {"field": "md", "type": "quantitative"}}},
  {"data": {"name": "out"}, "transform": [{"filter": "datum.p == 1"}],
   "mark": {"type": "point", "shape": "circle", "filled": false, "size": 36, "strokeWidth": 1.8, "color": "black", "opacity": 1},
   "encoding": {"y": {"field": "v", "type": "quantitative"}}}
 ]},
{"width": 272, "height": 286, "view": {"stroke": null},
 "title": {"text": ["English", "and Welsh herds"], "lineHeight": 30, "offset": 2, "dx": 4.5},
 "encoding": {"x": {"field": "m", "type": "quantitative", "scale": {"domain": [0.1, 10.55], "nice": false, "zero": false, "padding": 0},
          "axis": {"values": [1,2,3,4,5,6,7,8,9,10], "labelExpr": "datum.value == 10 ? '' : format(datum.value, 'd')", "tickSize": 14, "labelPadding": 22, "domain": true, "title": "Month of first lactation", "titlePadding": 33, "titleX": 140.5, "labelFlush": false, "labelOverlap": false, "labelBound": false, "labelFontSize": 20}}},
 "layer": [
  {"data": {"name": "boxes"}, "transform": [{"filter": "datum.p == 2"}],
   "mark": {"type": "rule", "strokeDash": [5, 4], "strokeWidth": 1.3, "color": "black"},
   "encoding": {
    "y": {"field": "q3", "type": "quantitative", "scale": {"domain": [-0.04, 1.04], "nice": false, "zero": false, "padding": 0},
          "axis": {"values": [0, 0.2, 0.4, 0.6, 0.8, 1], "format": ".1f", "tickSize": 13, "labelAngle": 270, "labelAlign": "center", "labelBaseline": "bottom", "labelPadding": 11, "domain": true, "labelOverlap": false, "title": "Proportion SCC >= 200,000 cells/mL", "titleFontSize": 22, "titlePadding": 27}},
    "y2": {"field": "hi"}}},
  {"data": {"name": "boxes"}, "transform": [{"filter": "datum.p == 2"}],
   "mark": {"type": "rule", "strokeDash": [5, 4], "strokeWidth": 1.3, "color": "black"},
   "encoding": {"y": {"field": "lo", "type": "quantitative"}, "y2": {"field": "q1"}}},
  {"data": {"name": "boxes"}, "transform": [{"filter": "datum.p == 2"}],
   "mark": {"type": "tick", "orient": "horizontal", "size": 12, "thickness": 1.3},
   "encoding": {"y": {"field": "hi", "type": "quantitative"}}},
  {"data": {"name": "boxes"}, "transform": [{"filter": "datum.p == 2"}],
   "mark": {"type": "tick", "orient": "horizontal", "size": 12, "thickness": 1.3},
   "encoding": {"y": {"field": "lo", "type": "quantitative"}}},
  {"data": {"name": "boxes"}, "transform": [{"filter": "datum.p == 2"}],
   "mark": {"type": "bar", "width": 21, "fill": "white", "stroke": "black", "strokeWidth": 1.3, "opacity": 1},
   "encoding": {"y": {"field": "q1", "type": "quantitative"}, "y2": {"field": "q3"}}},
  {"data": {"name": "boxes"}, "transform": [{"filter": "datum.p == 2"}],
   "mark": {"type": "tick", "orient": "horizontal", "size": 21, "thickness": 4.5},
   "encoding": {"y": {"field": "md", "type": "quantitative"}}},
  {"data": {"name": "out"}, "transform": [{"filter": "datum.p == 2"}],
   "mark": {"type": "point", "shape": "circle", "filled": false, "size": 36, "strokeWidth": 1.2, "color": "black", "opacity": 1},
   "encoding": {"y": {"field": "v", "type": "quantitative"}}},
  {"data": {"name": "boxes"}, "transform": [{"filter": "datum.p == 2 && datum.m == 1"}],
   "mark": {"type": "rule", "strokeWidth": 1.3, "color": "black"},
   "encoding": {"x": {"datum": 0.1, "type": "quantitative"}, "x2": {"datum": 10.55}, "y": {"datum": 1.04, "type": "quantitative"}}}
 ]}
], "spacing": 56},
{"hconcat": [
{"width": 281, "height": 286,
 "title": {"text": "Irish herds", "offset": 14.5},
 "encoding": {"x": {"field": "m", "type": "quantitative", "scale": {"domain": [0.1, 10.9], "nice": false, "zero": false, "padding": 0},
          "axis": {"values": [1,2,3,4,5,6,7,8,9,10], "labelExpr": "datum.value == 10 ? '' : format(datum.value, 'd')", "tickSize": 14, "labelPadding": 22, "domain": false, "title": "Month of first lactation", "titlePadding": 33, "labelFlush": false, "labelOverlap": false, "labelBound": false, "labelFontSize": 20}}},
 "layer": [
  {"data": {"name": "boxes"}, "transform": [{"filter": "datum.p == 3"}],
   "mark": {"type": "rule", "strokeDash": [5, 4], "strokeWidth": 1.3, "color": "black"},
   "encoding": {
    "y": {"field": "q3", "type": "quantitative", "scale": {"domain": [-0.04, 1.04], "nice": false, "zero": false, "padding": 0},
          "axis": {"values": [0, 0.2, 0.4, 0.6, 0.8, 1], "format": ".1f", "tickSize": 13, "labelAngle": 270, "labelAlign": "center", "labelBaseline": "bottom", "labelPadding": 11, "domain": false, "labelOverlap": false, "title": "Proportion SCC \u00a0>= 400,000 cells/mL", "titleFontSize": 22, "titlePadding": 27}},
    "y2": {"field": "hi"}}},
  {"data": {"name": "boxes"}, "transform": [{"filter": "datum.p == 3"}],
   "mark": {"type": "rule", "strokeDash": [5, 4], "strokeWidth": 1.3, "color": "black"},
   "encoding": {"y": {"field": "lo", "type": "quantitative"}, "y2": {"field": "q1"}}},
  {"data": {"name": "boxes"}, "transform": [{"filter": "datum.p == 3"}],
   "mark": {"type": "tick", "orient": "horizontal", "size": 12, "thickness": 1.3},
   "encoding": {"y": {"field": "hi", "type": "quantitative"}}},
  {"data": {"name": "boxes"}, "transform": [{"filter": "datum.p == 3"}],
   "mark": {"type": "tick", "orient": "horizontal", "size": 12, "thickness": 1.3},
   "encoding": {"y": {"field": "lo", "type": "quantitative"}}},
  {"data": {"name": "boxes"}, "transform": [{"filter": "datum.p == 3"}],
   "mark": {"type": "bar", "width": 21, "fill": "white", "stroke": "black", "strokeWidth": 1.3, "opacity": 1},
   "encoding": {"y": {"field": "q1", "type": "quantitative"}, "y2": {"field": "q3"}}},
  {"data": {"name": "boxes"}, "transform": [{"filter": "datum.p == 3"}],
   "mark": {"type": "tick", "orient": "horizontal", "size": 21, "thickness": 4.5},
   "encoding": {"y": {"field": "md", "type": "quantitative"}}},
  {"data": {"name": "out"}, "transform": [{"filter": "datum.p == 3"}],
   "mark": {"type": "point", "shape": "circle", "filled": false, "size": 36, "strokeWidth": 1.8, "color": "black", "opacity": 1},
   "encoding": {"y": {"field": "v", "type": "quantitative"}}}
 ]},
{"width": 272, "height": 286, "view": {"stroke": null},
 "title": {"text": ["English", "and Welsh herds"], "lineHeight": 30, "offset": 2, "dx": 4.5},
 "encoding": {"x": {"field": "m", "type": "quantitative", "scale": {"domain": [0.1, 10.55], "nice": false, "zero": false, "padding": 0},
          "axis": {"values": [1,2,3,4,5,6,7,8,9,10], "labelExpr": "datum.value == 10 ? '' : format(datum.value, 'd')", "tickSize": 14, "labelPadding": 22, "domain": true, "title": "Month of first lactation", "titlePadding": 33, "titleX": 140.5, "labelFlush": false, "labelOverlap": false, "labelBound": false, "labelFontSize": 20}}},
 "layer": [
  {"data": {"name": "boxes"}, "transform": [{"filter": "datum.p == 4"}],
   "mark": {"type": "rule", "strokeDash": [5, 4], "strokeWidth": 1.3, "color": "black"},
   "encoding": {
    "y": {"field": "q3", "type": "quantitative", "scale": {"domain": [-0.04, 1.04], "nice": false, "zero": false, "padding": 0},
          "axis": {"values": [0, 0.2, 0.4, 0.6, 0.8, 1], "format": ".1f", "tickSize": 13, "labelAngle": 270, "labelAlign": "center", "labelBaseline": "bottom", "labelPadding": 11, "domain": true, "labelOverlap": false, "title": "Proportion SCC >= 400,000 cells/mL", "titleFontSize": 22, "titlePadding": 27}},
    "y2": {"field": "hi"}}},
  {"data": {"name": "boxes"}, "transform": [{"filter": "datum.p == 4"}],
   "mark": {"type": "rule", "strokeDash": [5, 4], "strokeWidth": 1.3, "color": "black"},
   "encoding": {"y": {"field": "lo", "type": "quantitative"}, "y2": {"field": "q1"}}},
  {"data": {"name": "boxes"}, "transform": [{"filter": "datum.p == 4"}],
   "mark": {"type": "tick", "orient": "horizontal", "size": 12, "thickness": 1.3},
   "encoding": {"y": {"field": "hi", "type": "quantitative"}}},
  {"data": {"name": "boxes"}, "transform": [{"filter": "datum.p == 4"}],
   "mark": {"type": "tick", "orient": "horizontal", "size": 12, "thickness": 1.3},
   "encoding": {"y": {"field": "lo", "type": "quantitative"}}},
  {"data": {"name": "boxes"}, "transform": [{"filter": "datum.p == 4"}],
   "mark": {"type": "bar", "width": 21, "fill": "white", "stroke": "black", "strokeWidth": 1.3, "opacity": 1},
   "encoding": {"y": {"field": "q1", "type": "quantitative"}, "y2": {"field": "q3"}}},
  {"data": {"name": "boxes"}, "transform": [{"filter": "datum.p == 4"}],
   "mark": {"type": "tick", "orient": "horizontal", "size": 21, "thickness": 4.5},
   "encoding": {"y": {"field": "md", "type": "quantitative"}}},
  {"data": {"name": "out"}, "transform": [{"filter": "datum.p == 4"}],
   "mark": {"type": "point", "shape": "circle", "filled": false, "size": 36, "strokeWidth": 1.2, "color": "black", "opacity": 1},
   "encoding": {"y": {"field": "v", "type": "quantitative"}}},
  {"data": {"name": "boxes"}, "transform": [{"filter": "datum.p == 4 && datum.m == 1"}],
   "mark": {"type": "rule", "strokeWidth": 1.3, "color": "black"},
   "encoding": {"x": {"datum": 0.1, "type": "quantitative"}, "x2": {"datum": 10.55}, "y": {"datum": 1.04, "type": "quantitative"}}}
 ]}
], "spacing": 56}
],
"spacing": 57,
"config": {
 "font": "Liberation Serif",
 "view": {"stroke": "black", "strokeWidth": 1.3},
 "axis": {"labelFont": "Liberation Serif", "titleFont": "Liberation Serif", "labelFontSize": 20, "titleFontSize": 20, "labelColor": "black", "titleColor": "black", "tickColor": "black", "domainColor": "black", "tickWidth": 1.3, "domainWidth": 1.3, "grid": false, "titleFontWeight": "normal", "labelOverlap": false},
 "axisX": {"labelOverlap": false, "labelSeparation": 0},
 "axisQuantitative": {"labelOverlap": false},
 "title": {"font": "Liberation Serif", "fontSize": 24, "fontWeight": "bold", "color": "black", "anchor": "middle", "baseline": "bottom"},
 "tick": {"color": "black", "opacity": 1},
 "rule": {"color": "black"}
}
}
